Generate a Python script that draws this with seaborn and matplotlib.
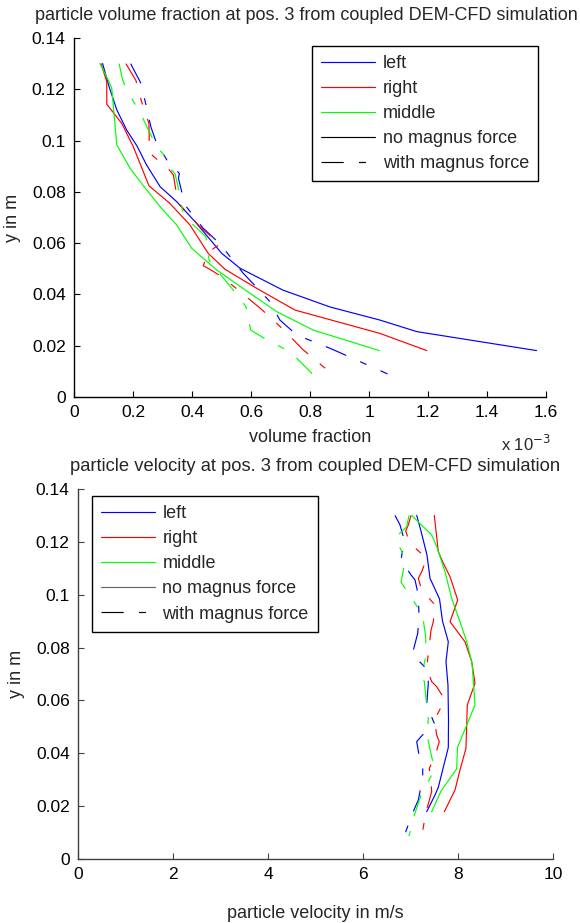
import numpy as np
import pandas as pd
import matplotlib
matplotlib.use("Agg")
import matplotlib.pyplot as plt
from matplotlib.lines import Line2D
import seaborn as sns

# ---------------- data (top panel x in units of 1e-3) ----------------
VF_SCALE = 1e-3
regions = ["left", "right", "middle"]
forces = ["no magnus force", "with magnus force"]

vf_left_no_x = [0.097, 0.119, 0.145, 0.179, 0.213, 0.246, 0.292, 0.348, 0.410, 0.501, 0.563, 0.708, 0.868, 1.037, 1.162, 1.568]
vf_left_no_y = [0.130, 0.121, 0.112, 0.104, 0.098, 0.0905, 0.082, 0.0762, 0.0684, 0.056, 0.0502, 0.0417, 0.0351, 0.030, 0.0255, 0.0181]
vf_right_no_x = [0.0915, 0.111, 0.111, 0.162, 0.201, 0.254, 0.325, 0.393, 0.455, 0.512, 0.619, 0.749, 1.037, 1.196]
vf_right_no_y = [0.130, 0.123, 0.1142, 0.1067, 0.0976, 0.0824, 0.0755, 0.0671, 0.056, 0.0498, 0.0424, 0.0339, 0.0248, 0.0181]
vf_mid_no_x = [0.088, 0.116, 0.128, 0.145, 0.190, 0.229, 0.292, 0.348, 0.399, 0.484, 0.597, 0.687, 0.811, 1.035]
vf_mid_no_y = [0.130, 0.1236, 0.1204, 0.0983, 0.0892, 0.0833, 0.0742, 0.0671, 0.058, 0.0495, 0.0404, 0.0333, 0.0261, 0.0181]

vf_left_mag_x = [0.192, 0.227, 0.244, 0.261, 0.278, 0.318, 0.357, 0.354, 0.376, 0.438, 0.495, 0.574, 0.628, 0.664, 0.698, 0.755, 0.874, 1.063]
vf_left_mag_y = [0.130, 0.1223, 0.1139, 0.1052, 0.0996, 0.0918, 0.0872, 0.0853, 0.0749, 0.0658, 0.0597, 0.0482, 0.0417, 0.0372, 0.030, 0.0242, 0.0187, 0.009]
vf_right_mag_x = [0.176, 0.210, 0.229, 0.254, 0.255, 0.255, 0.280, 0.321, 0.337, 0.346, 0.359, 0.427, 0.472, 0.489, 0.495, 0.457, 0.438, 0.459, 0.501, 0.563, 0.625, 0.664, 0.719, 0.775, 0.874]
vf_right_mag_y = [0.130, 0.1234, 0.1152, 0.1067, 0.1002, 0.0953, 0.0928, 0.0888, 0.0866, 0.0801, 0.0749, 0.0664, 0.0619, 0.0612, 0.0596, 0.0567, 0.0512, 0.0499, 0.0469, 0.0411, 0.0352, 0.0313, 0.0252, 0.0186, 0.009]
vf_mid_mag_x = [0.153, 0.164, 0.184, 0.199, 0.224, 0.258, 0.282, 0.301, 0.325, 0.342, 0.354, 0.368, 0.393, 0.447, 0.455, 0.458, 0.484, 0.535, 0.583, 0.594, 0.599, 0.642, 0.709, 0.755, 0.808]
vf_mid_mag_y = [0.130, 0.1239, 0.1184, 0.1158, 0.1109, 0.1028, 0.097, 0.095, 0.0892, 0.0872, 0.0814, 0.0727, 0.0684, 0.0625, 0.056, 0.0534, 0.0495, 0.0424, 0.0352, 0.0291, 0.0261, 0.0231, 0.019, 0.0151, 0.009]

# ---------------- data (bottom panel, m/s) ----------------
vel_left_no_x = [7.131, 7.221, 7.347, 7.411, 7.611, 7.674, 7.796, 7.747, 7.789, 7.800, 7.796, 7.585, 7.516, 7.341]
vel_left_no_y = [0.130, 0.1241, 0.115, 0.1062, 0.0984, 0.090, 0.0822, 0.0747, 0.0658, 0.0526, 0.0422, 0.0271, 0.0242, 0.0179]
vel_right_no_x = [7.501, 7.585, 7.691, 7.832, 7.994, 7.832, 8.147, 8.288, 8.358, 8.196, 8.168, 8.042, 7.937, 7.712]
vel_right_no_y = [0.130, 0.1163, 0.1119, 0.1068, 0.098, 0.0898, 0.0822, 0.0747, 0.0665, 0.0583, 0.0419, 0.0337, 0.0261, 0.0179]
vel_mid_no_x = [7.025, 7.446, 7.552, 7.726, 7.867, 8.042, 8.183, 8.295, 8.358, 7.989, 7.973, 7.642, 7.446]
vel_mid_no_y = [0.130, 0.1226, 0.1182, 0.1087, 0.0986, 0.0898, 0.0822, 0.0742, 0.0583, 0.0422, 0.0341, 0.0257, 0.0179]

vel_left_mag_x = [6.674, 6.779, 6.869, 6.800, 7.011, 7.095, 7.164, 7.179, 7.152, 7.038, 7.362, 7.375, 7.341, 7.501, 7.221, 7.131, 7.185, 7.257, 7.257, 7.164, 7.025, 6.869]
vel_left_mag_y = [0.130, 0.1264, 0.1207, 0.1131, 0.1075, 0.1056, 0.0999, 0.0917, 0.0854, 0.0775, 0.0715, 0.0665, 0.0583, 0.0513, 0.0463, 0.0444, 0.0387, 0.0349, 0.0305, 0.0223, 0.0166, 0.0087]
vel_right_mag_x = [7.011, 6.954, 6.899, 6.989, 7.341, 7.236, 7.164, 7.236, 7.516, 7.480, 7.432, 7.396, 7.341, 7.446, 7.552, 7.726, 7.501, 7.552, 7.606, 7.516, 7.396, 7.425, 7.446, 7.320, 7.236]
vel_right_mag_y = [0.130, 0.1264, 0.1241, 0.1194, 0.1138, 0.1087, 0.1062, 0.1018, 0.0961, 0.0898, 0.0866, 0.081, 0.0722, 0.0671, 0.0652, 0.0602, 0.0526, 0.0469, 0.0444, 0.039, 0.0343, 0.0305, 0.0255, 0.0173, 0.0084]
vel_mid_mag_x = [6.968, 6.920, 6.695, 6.743, 6.899, 6.869, 6.800, 7.059, 7.215, 7.269, 7.320, 7.320, 7.236, 7.291, 7.341, 7.375, 7.354, 7.375, 7.446, 7.501, 7.411, 7.236, 7.200, 7.080, 6.968]
vel_mid_mag_y = [0.130, 0.1257, 0.1219, 0.1191, 0.1131, 0.1112, 0.1047, 0.098, 0.093, 0.0904, 0.0841, 0.0765, 0.0696, 0.0671, 0.0583, 0.0532, 0.0476, 0.0444, 0.0387, 0.0343, 0.0305, 0.0249, 0.023, 0.0166, 0.0087]

y_ticks = [0, 0.02, 0.04, 0.06, 0.08, 0.1, 0.12, 0.14]
y_ticklabels = ["0", "0.02", "0.04", "0.06", "0.08", "0.1", "0.12", "0.14"]
vf_ticks = [0, 0.2, 0.4, 0.6, 0.8, 1.0, 1.2, 1.4, 1.6]
vf_ticklabels = ["0", "0.2", "0.4", "0.6", "0.8", "1", "1.2", "1.4", "1.6"]
vel_ticks = [0, 2, 4, 6, 8, 10]
vel_ticklabels = ["0", "2", "4", "6", "8", "10"]


def build(series, scale=1.0):
    rows = []
    for (reg, frc), (xs, ys) in series.items():
        for i, (xv, yv) in enumerate(zip(xs, ys)):
            rows.append({"x": xv * scale, "y": yv, "region": reg, "force": frc, "order": i})
    return pd.DataFrame(rows)


df_vf = build({
    ("left", forces[0]): (vf_left_no_x, vf_left_no_y),
    ("right", forces[0]): (vf_right_no_x, vf_right_no_y),
    ("middle", forces[0]): (vf_mid_no_x, vf_mid_no_y),
    ("left", forces[1]): (vf_left_mag_x, vf_left_mag_y),
    ("right", forces[1]): (vf_right_mag_x, vf_right_mag_y),
    ("middle", forces[1]): (vf_mid_mag_x, vf_mid_mag_y),
}, VF_SCALE)
df_vel = build({
    ("left", forces[0]): (vel_left_no_x, vel_left_no_y),
    ("right", forces[0]): (vel_right_no_x, vel_right_no_y),
    ("middle", forces[0]): (vel_mid_no_x, vel_mid_no_y),
    ("left", forces[1]): (vel_left_mag_x, vel_left_mag_y),
    ("right", forces[1]): (vel_right_mag_x, vel_right_mag_y),
    ("middle", forces[1]): (vel_mid_mag_x, vel_mid_mag_y),
})

# ---------------- style ----------------
sns.set_style("ticks")
plt.rcParams["font.family"] = ["Liberation Sans", "DejaVu Sans"]
plt.rcParams["font.size"] = 13
plt.rcParams["lines.scale_dashes"] = False

FS = 13
TFS = 12.5
palette = {"left": "#0000ff", "right": "#ff0000", "middle": "#00ff00"}
DASH = (16, 11, 5, 11)
dashes = {forces[0]: "", forces[1]: DASH}
LW = 0.85

fig = plt.figure(figsize=(5.8, 9.23), dpi=100)
ax1 = fig.add_axes([74 / 580, 1 - 397 / 923, 472 / 580, 359 / 923])
ax2 = fig.add_axes([78 / 580, 1 - 859 / 923, 475 / 580, 370 / 923])

for ax, df in ((ax1, df_vf), (ax2, df_vel)):
    sns.lineplot(data=df, x="x", y="y", hue="region", style="force",
                 palette=palette, dashes=dashes, sort=False, estimator=None,
                 linewidth=LW, legend=False, ax=ax)

ax1.set_xlim(0, 1.6e-3)
ax1.set_ylim(0, 0.14)
ax1.set_xticks([t * VF_SCALE for t in vf_ticks])
ax1.set_xticklabels(vf_ticklabels)
ax2.set_xlim(0, 10)
ax2.set_ylim(0, 0.14)
ax2.set_xticks(vel_ticks)
ax2.set_xticklabels(vel_ticklabels)

for ax, spc in ((ax1, "black"), (ax2, "0.25")):
    ax.set_yticks(y_ticks)
    ax.set_yticklabels(y_ticklabels)
    sns.despine(ax=ax)
    for s in ("left", "bottom"):
        ax.spines[s].set_color(spc)
        ax.spines[s].set_linewidth(1.0)
    ax.tick_params(direction="in", length=4, width=0.8, pad=6, labelsize=TFS,
                   colors=spc, labelcolor="black")
    ax.set_ylabel("y in m", fontsize=FS, labelpad=8)

ax1.set_xlabel("volume fraction", fontsize=FS, labelpad=6)
ax2.set_xlabel("particle velocity in m/s", fontsize=FS, labelpad=16)
ax1.set_title("particle volume fraction at pos. 3 from coupled DEM-CFD simulation",
              fontsize=13, pad=13, x=0.493)
ax2.set_title("particle velocity at pos. 3 from coupled DEM-CFD simulation",
              fontsize=13.2, pad=13)
ax1.text(0.905, -0.13, r"x 10$^{-3}$", transform=ax1.transAxes,
         ha="left", va="center", fontsize=12)


def make_legend(ax, anchor, loc, nomag_color):
    handles = [Line2D([], [], color=palette[r], lw=LW) for r in regions]
    handles.append(Line2D([], [], color=nomag_color, lw=LW))
    h = Line2D([], [], color="black", lw=LW)
    h.set_dashes(DASH)
    handles.append(h)
    labels = regions + forces
    leg = ax.legend(handles, labels, loc=loc, bbox_to_anchor=anchor,
                    frameon=True, fancybox=False, framealpha=1, fontsize=FS,
                    handlelength=3.0, handletextpad=0.4, labelspacing=0.45,
                    borderpad=0.5, borderaxespad=0)
    leg.get_frame().set_edgecolor("black")
    leg.get_frame().set_linewidth(1.0)
    return leg


make_legend(ax1, (0.983, 0.978), "upper right", "black")
make_legend(ax2, (0.0295, 0.981), "upper left", "0.4")

fig.savefig("out.png", dpi=100)
